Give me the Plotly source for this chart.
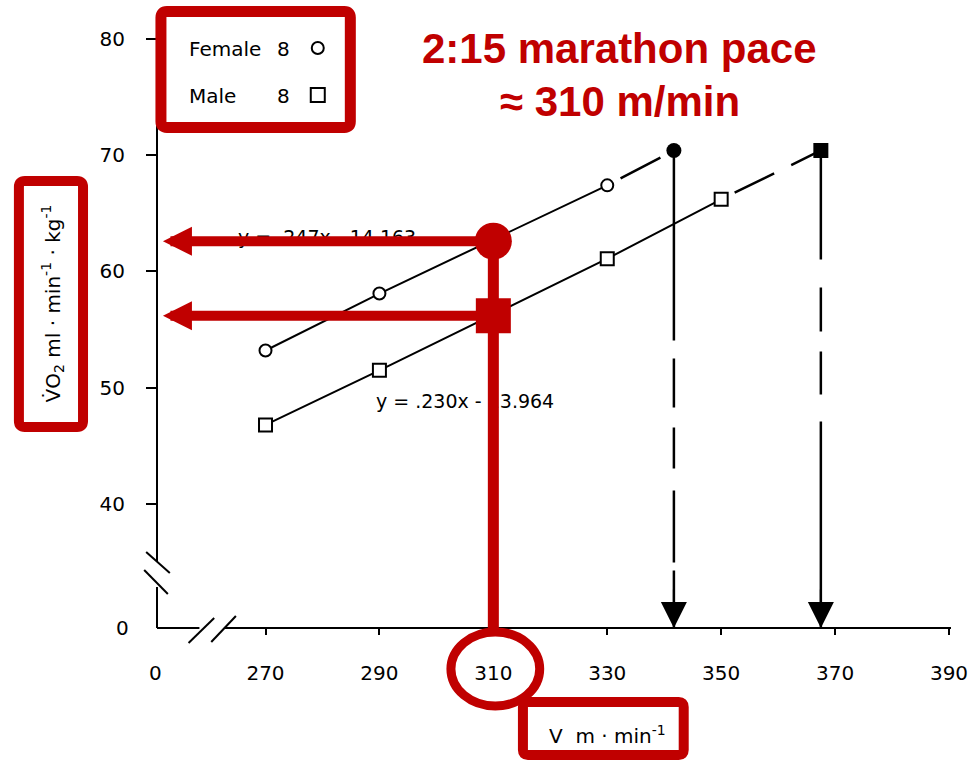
import plotly.graph_objects as go

# ---------------- data ----------------
female_v = [270, 290, 330]
female_vo2 = [53.2, 58.1, 67.4]
male_v = [270, 290, 330, 350]
male_vo2 = [46.8, 51.5, 61.1, 66.2]
female_end = [341.7, 70.4]
male_end = [367.5, 70.4]
pace_v = 310
pace_female = 62.6
pace_male = 56.2
x_ticks = [270, 290, 310, 330, 350, 370, 390]
y_ticks = [40, 50, 60, 70, 80]
female_eq = "y = .247x - 14.163"
male_eq = "y = .230x - 13.964"
legend_rows = [("Female", "8"), ("Male", "8")]
title_lines = ["2:15 marathon pace", "≈ 310 m/min"]
x_title = "V  m · min<sup>-1</sup>"
y_title = "V\u0307O<sub>2</sub> ml · min<sup>-1</sup> · kg<sup>-1</sup>"

# ---------------- layout geometry ----------------
W, H = 980, 764
L, R, T, B = 157, 18, 30, 136
XR = [250.95, 390.35]
YR = [29.34, 80.76]
PW, PH = W - L - R, H - T - B
RED = "#C00000"
FONT = "DejaVu Sans"


def px(xp):
    return (xp - L) / PW


def py(yp):
    return (H - B - yp) / PH


def dx(xp):
    return XR[0] + (xp - L) / PW * (XR[1] - XR[0])


def rrect_path(x0, y0, x1, y1, r):
    """Rounded rectangle path in paper coordinates from pixel corners."""
    pts = []
    pts.append(f"M{px(x0 + r)},{py(y0)}")
    pts.append(f"L{px(x1 - r)},{py(y0)}")
    pts.append(f"Q{px(x1)},{py(y0)} {px(x1)},{py(y0 + r)}")
    pts.append(f"L{px(x1)},{py(y1 - r)}")
    pts.append(f"Q{px(x1)},{py(y1)} {px(x1 - r)},{py(y1)}")
    pts.append(f"L{px(x0 + r)},{py(y1)}")
    pts.append(f"Q{px(x0)},{py(y1)} {px(x0)},{py(y1 - r)}")
    pts.append(f"L{px(x0)},{py(y0 + r)}")
    pts.append(f"Q{px(x0)},{py(y0)} {px(x0 + r)},{py(y0)}")
    pts.append("Z")
    return " ".join(pts)


fig = go.Figure()

# female series
fig.add_trace(go.Scatter(x=female_v, y=female_vo2, mode="lines+markers",
                         line=dict(color="black", width=2),
                         marker=dict(symbol="circle", size=12, color="white",
                                     line=dict(color="black", width=2))))
fig.add_trace(go.Scatter(x=[female_v[-1], female_end[0]], y=[female_vo2[-1], female_end[1]],
                         mode="lines", line=dict(color="black", width=2.5, dash="0px,15px,45px,8px,60px")))
fig.add_trace(go.Scatter(x=[female_end[0], female_end[0]], y=[female_end[1], YR[0]],
                         mode="lines", line=dict(color="black", width=2.5,
                                                 dash="190px,18px,49px,20px,41px,22px,72px,8px,300px")))
fig.add_trace(go.Scatter(x=[female_end[0]], y=[female_end[1]], mode="markers",
                         marker=dict(symbol="circle", size=15, color="black"), cliponaxis=False))

# male series
fig.add_trace(go.Scatter(x=male_v, y=male_vo2, mode="lines+markers",
                         line=dict(color="black", width=2),
                         marker=dict(symbol="square", size=13, color="white",
                                     line=dict(color="black", width=2))))
fig.add_trace(go.Scatter(x=[male_v[-1], male_end[0]], y=[male_vo2[-1], male_end[1]],
                         mode="lines", line=dict(color="black", width=2.5, dash="0px,15px,44px,19px,60px")))
fig.add_trace(go.Scatter(x=[male_end[0], male_end[0]], y=[male_end[1], YR[0]],
                         mode="lines", line=dict(color="black", width=2.5,
                                                 dash="109px,28px,44px,20px,43px,27px,400px")))
fig.add_trace(go.Scatter(x=[male_end[0]], y=[male_end[1]], mode="markers",
                         marker=dict(symbol="square", size=15, color="black"), cliponaxis=False))

# red highlight markers
fig.add_trace(go.Scatter(x=[pace_v], y=[pace_female], mode="markers",
                         marker=dict(symbol="circle", size=37, color=RED)))
fig.add_trace(go.Scatter(x=[pace_v], y=[pace_male], mode="markers",
                         marker=dict(symbol="square", size=35, color=RED)))

shapes = []
# axis lines with breaks
ax_line = dict(color="black", width=2)
shapes.append(dict(type="line", xref="paper", yref="paper", x0=0, x1=0, y0=0, y1=py(587), line=ax_line))
shapes.append(dict(type="line", xref="paper", yref="paper", x0=0, x1=0, y0=py(562), y1=1, line=ax_line))
shapes.append(dict(type="line", xref="paper", yref="paper", x0=0, x1=px(200), y0=0, y1=0, line=ax_line))
shapes.append(dict(type="line", xref="paper", yref="paper", x0=px(225), x1=1, y0=0, y1=0, line=ax_line))
for (a, b, c, d) in [(146, 552, 170, 573), (144, 570, 168, 594),
                     (189, 643, 215, 618), (212, 642, 237, 616)]:
    shapes.append(dict(type="line", xref="paper", yref="paper",
                       x0=px(a), y0=py(b), x1=px(c), y1=py(d), line=ax_line))

# legend box
shapes.append(dict(type="path", xref="paper", yref="paper", path=rrect_path(161, 11.5, 353, 127.5, 6),
                   line=dict(color=RED, width=11), fillcolor="white"))
shapes.append(dict(type="circle", xref="paper", yref="paper", xsizemode="pixel", ysizemode="pixel",
                   xanchor=px(320), yanchor=py(48), x0=-6, x1=6, y0=-6, y1=6,
                   line=dict(color="black", width=2), fillcolor="white"))
shapes.append(dict(type="rect", xref="paper", yref="paper", xsizemode="pixel", ysizemode="pixel",
                   xanchor=px(320), yanchor=py(95), x0=-7, x1=7, y0=-7, y1=7,
                   line=dict(color="black", width=2), fillcolor="white"))
# y title box
shapes.append(dict(type="path", xref="paper", yref="paper", path=rrect_path(17, 181, 82, 427, 6),
                   line=dict(color=RED, width=10), fillcolor="white"))
# x title box
shapes.append(dict(type="path", xref="paper", yref="paper", path=rrect_path(528, 702, 691, 755, 5),
                   line=dict(color=RED, width=10), fillcolor="white"))
# ellipse around 310
shapes.append(dict(type="circle", xref="paper", yref="paper", x0=px(455), x1=px(545),
                   y0=py(706), y1=py(632), line=dict(color=RED, width=9)))

annotations = []
tf = dict(family=FONT, size=20, color="#000000")
ef = dict(family=FONT, size=19, color="#000000")
# zero labels on broken axes
annotations.append(dict(xref="paper", yref="paper", x=px(155), y=py(673), text="0",
                        showarrow=False, font=tf, xanchor="center", yanchor="middle"))
annotations.append(dict(xref="paper", yref="paper", x=px(122), y=py(628), text="0",
                        showarrow=False, font=tf, xanchor="center", yanchor="middle"))
# legend text
for i, (name, n) in enumerate(legend_rows):
    yy = py(49 + i * 47)
    annotations.append(dict(xref="paper", yref="paper", x=px(187), y=yy, text=name,
                            showarrow=False, font=tf, xanchor="left", yanchor="middle"))
    annotations.append(dict(xref="paper", yref="paper", x=px(285), y=yy, text=n,
                            showarrow=False, font=tf, xanchor="center", yanchor="middle"))
# axis titles
annotations.append(dict(xref="paper", yref="paper", x=px(51), y=py(303), text=y_title,
                        textangle=-90, showarrow=False, font=tf, xanchor="center", yanchor="middle"))
annotations.append(dict(xref="paper", yref="paper", x=px(614), y=py(735), text=x_title,
                        showarrow=False, font=tf, xanchor="center", yanchor="middle"))
# title
for i, line in enumerate(title_lines):
    annotations.append(dict(xref="paper", yref="paper", x=px(626), y=py(49 + i * 52), text=line,
                            showarrow=False, xanchor="center", yanchor="middle",
                            font=dict(family="Liberation Sans", size=42, color=RED, weight="bold")))
# regression equations
annotations.append(dict(xref="paper", yref="paper", x=px(237), y=py(237), text=female_eq,
                        showarrow=False, font=ef, xanchor="left", yanchor="middle"))
annotations.append(dict(xref="paper", yref="paper", x=px(377), y=py(401), text=male_eq,
                        showarrow=False, font=ef, xanchor="left", yanchor="middle"))
# black arrowheads at x intercepts
for xe in [female_end[0], male_end[0]]:
    annotations.append(dict(x=xe, y=YR[0], xref="x", yref="y", ax=0, ay=-40, text="",
                            showarrow=True, arrowhead=2, arrowwidth=2, arrowsize=2.6,
                            arrowcolor="black", standoff=0))
# red arrows to the y axis
for yv in [pace_female, pace_male]:
    annotations.append(dict(x=dx(163), y=yv, xref="x", yref="y", axref="x", ayref="y",
                            ax=pace_v, ay=yv, text="", showarrow=True, arrowhead=2,
                            arrowwidth=10, arrowsize=0.58, arrowcolor=RED, standoff=0))
# red vertical from the x axis
annotations.append(dict(x=pace_v, y=YR[0], xref="x", yref="y", axref="x", ayref="y",
                        ax=pace_v, ay=pace_female, text="", showarrow=True, arrowhead=0,
                        arrowwidth=11, arrowcolor=RED, standoff=0))

fig.update_layout(
    width=W, height=H,
    margin=dict(l=L, r=R, t=T, b=B, pad=0),
    paper_bgcolor="white", plot_bgcolor="white",
    showlegend=False,
    shapes=shapes, annotations=annotations,
    xaxis=dict(range=XR, tickvals=x_ticks, ticktext=[str(v) for v in x_ticks],
               showgrid=False, zeroline=False, showline=False,
               ticks="outside", ticklen=6, tickwidth=2, tickcolor="black",
               ticklabelstandoff=21, tickfont=tf),
    yaxis=dict(range=YR, tickvals=y_ticks, ticktext=[str(v) for v in y_ticks],
               showgrid=False, zeroline=False, showline=False,
               ticks="outside", ticklen=10, tickwidth=2, tickcolor="black",
               ticklabelstandoff=17, tickfont=tf),
)

fig.write_html("out.html")
